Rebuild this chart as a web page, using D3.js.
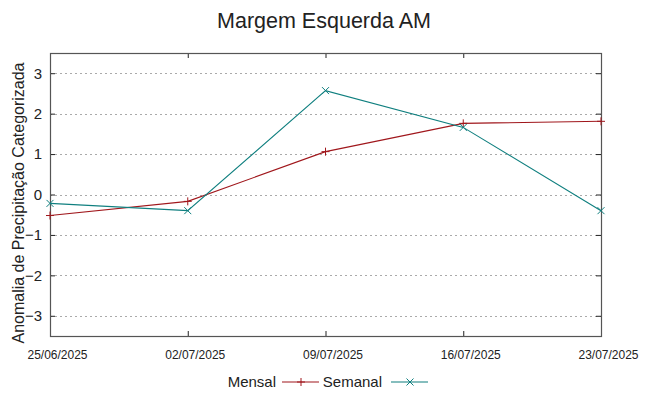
<!DOCTYPE html>
<html>
<head>
<meta charset="utf-8">
<script src="https://cdn.jsdelivr.net/npm/d3@7"></script>
<style>
  body { margin: 0; background: #fff; }
  text { font-family: 'Liberation Sans', Arial, sans-serif; fill: #222; }
</style>
</head>
<body>
<div id="root"></div>
<script>
const dates = ['25/06/2025', '02/07/2025', '09/07/2025', '16/07/2025', '23/07/2025'];
const mensal = [-0.52, -0.17, 1.06, 1.76, 1.81];
const semanal = [-0.22, -0.40, 2.57, 1.66, -0.40];
const yTicks = [-3, -2, -1, 0, 1, 2, 3];

const width = 649;
const height = 396;
const margin = { top: 53, right: 48, bottom: 60, left: 50 };
const plotW = width - margin.left - margin.right;
const plotH = height - margin.top - margin.bottom;
const parse = d3.timeParse('%d/%m/%Y');

const svg = d3.select('#root').append('svg')
  .attr('width', width)
  .attr('height', height);

svg.append('text')
  .attr('x', 324)
  .attr('y', 28)
  .attr('text-anchor', 'middle')
  .style('font-size', '21.5px')
  .text('Margem Esquerda AM');

const chart = svg.append('g')
  .attr('transform', `translate(${margin.left}, ${margin.top})`);

const xScale = d3.scaleTime()
  .domain(d3.extent(dates, parse))
  .range([0, plotW]);

const yScale = d3.scaleLinear()
  .domain([-3.5, 3.5])
  .range([plotH, 0]);

// dotted horizontal grid
chart.selectAll('.grid')
  .data(yTicks)
  .enter()
  .append('line')
  .attr('class', 'grid')
  .attr('x1', 0)
  .attr('x2', plotW)
  .attr('y1', d => Math.round(yScale(d)) + 0.5)
  .attr('y2', d => Math.round(yScale(d)) + 0.5)
  .attr('stroke', '#aaa')
  .attr('stroke-dasharray', '2,3');

const axisStyle = g => {
  g.select('.domain').remove();
  g.selectAll('.tick line').attr('stroke', '#222');
  g.selectAll('.tick text').style('font-family', "'Liberation Sans', Arial, sans-serif").attr('fill', '#222');
};

chart.append('g')
  .attr('transform', `translate(0, ${plotH})`)
  .call(d3.axisBottom(xScale).tickValues(dates.map(parse)).tickFormat(d3.timeFormat('%d/%m/%Y')).tickSizeInner(-5).tickSizeOuter(0).tickPadding(14))
  .call(axisStyle)
  .call(g => g.selectAll('.tick text').style('font-size', '12px').attr('dx', 7));

chart.append('g')
  .call(d3.axisTop(xScale).tickValues(dates.map(parse)).tickFormat('').tickSizeInner(-5).tickSizeOuter(0))
  .call(axisStyle);

chart.append('g')
  .call(d3.axisLeft(yScale).tickValues(yTicks).tickFormat(d3.format('d')).tickSizeInner(-5).tickSizeOuter(0).tickPadding(8))
  .call(axisStyle)
  .call(g => g.selectAll('.tick text').style('font-size', '15px'));

chart.append('g')
  .attr('transform', `translate(${plotW}, 0)`)
  .call(d3.axisRight(yScale).tickValues(yTicks).tickFormat('').tickSizeInner(-5).tickSizeOuter(0))
  .call(axisStyle);

chart.append('rect')
  .attr('x', 0.5)
  .attr('y', 0.5)
  .attr('width', plotW)
  .attr('height', plotH)
  .attr('fill', 'none')
  .attr('stroke', '#555')
  .attr('stroke-width', 1.2);

svg.append('text')
  .attr('transform', 'translate(24, 203) rotate(-90)')
  .attr('text-anchor', 'middle')
  .style('font-size', '16px')
  .text('Anomalia de Precipitação Categorizada');

const series = [
  { name: 'Mensal', values: mensal, color: '#a0171c', marker: 'plus' },
  { name: 'Semanal', values: semanal, color: '#0f7f7f', marker: 'cross' },
];

const line = d3.line()
  .x((d, i) => xScale(parse(dates[i])))
  .y(d => yScale(d));

function drawMarker(g, type, x, y, color) {
  const s = type === 'plus' ? 4 : 3.5;
  const segs = type === 'plus'
    ? [[x - s, y, x + s, y], [x, y - s, x, y + s]]
    : [[x - s, y - s, x + s, y + s], [x - s, y + s, x + s, y - s]];
  segs.forEach(p => g.append('line')
    .attr('x1', p[0]).attr('y1', p[1]).attr('x2', p[2]).attr('y2', p[3])
    .attr('stroke', color).attr('stroke-width', 1));
}

series.forEach(s => {
  chart.append('path')
    .datum(s.values)
    .attr('d', line)
    .attr('fill', 'none')
    .attr('stroke', s.color)
    .attr('stroke-width', 1.1);
  const mg = chart.append('g');
  s.values.forEach((v, i) => drawMarker(mg, s.marker, xScale(parse(dates[i])), yScale(v), s.color));
});

// legend
const legend = svg.append('g').attr('transform', 'translate(0, 382)');
const legendItems = [
  { x: 276, lx: 282, ...series[0] },
  { x: 382, lx: 391, ...series[1] },
];
legendItems.forEach(d => {
  legend.append('text')
    .attr('x', d.x)
    .attr('y', 5)
    .attr('text-anchor', 'end')
    .style('font-size', '15px')
    .text(d.name);
  legend.append('line')
    .attr('x1', d.lx).attr('x2', d.lx + 37)
    .attr('y1', 0).attr('y2', 0)
    .attr('stroke', d.color).attr('stroke-width', 1.1);
  drawMarker(legend, d.marker, d.lx + 19, 0, d.color);
});
</script>
</body>
</html>
